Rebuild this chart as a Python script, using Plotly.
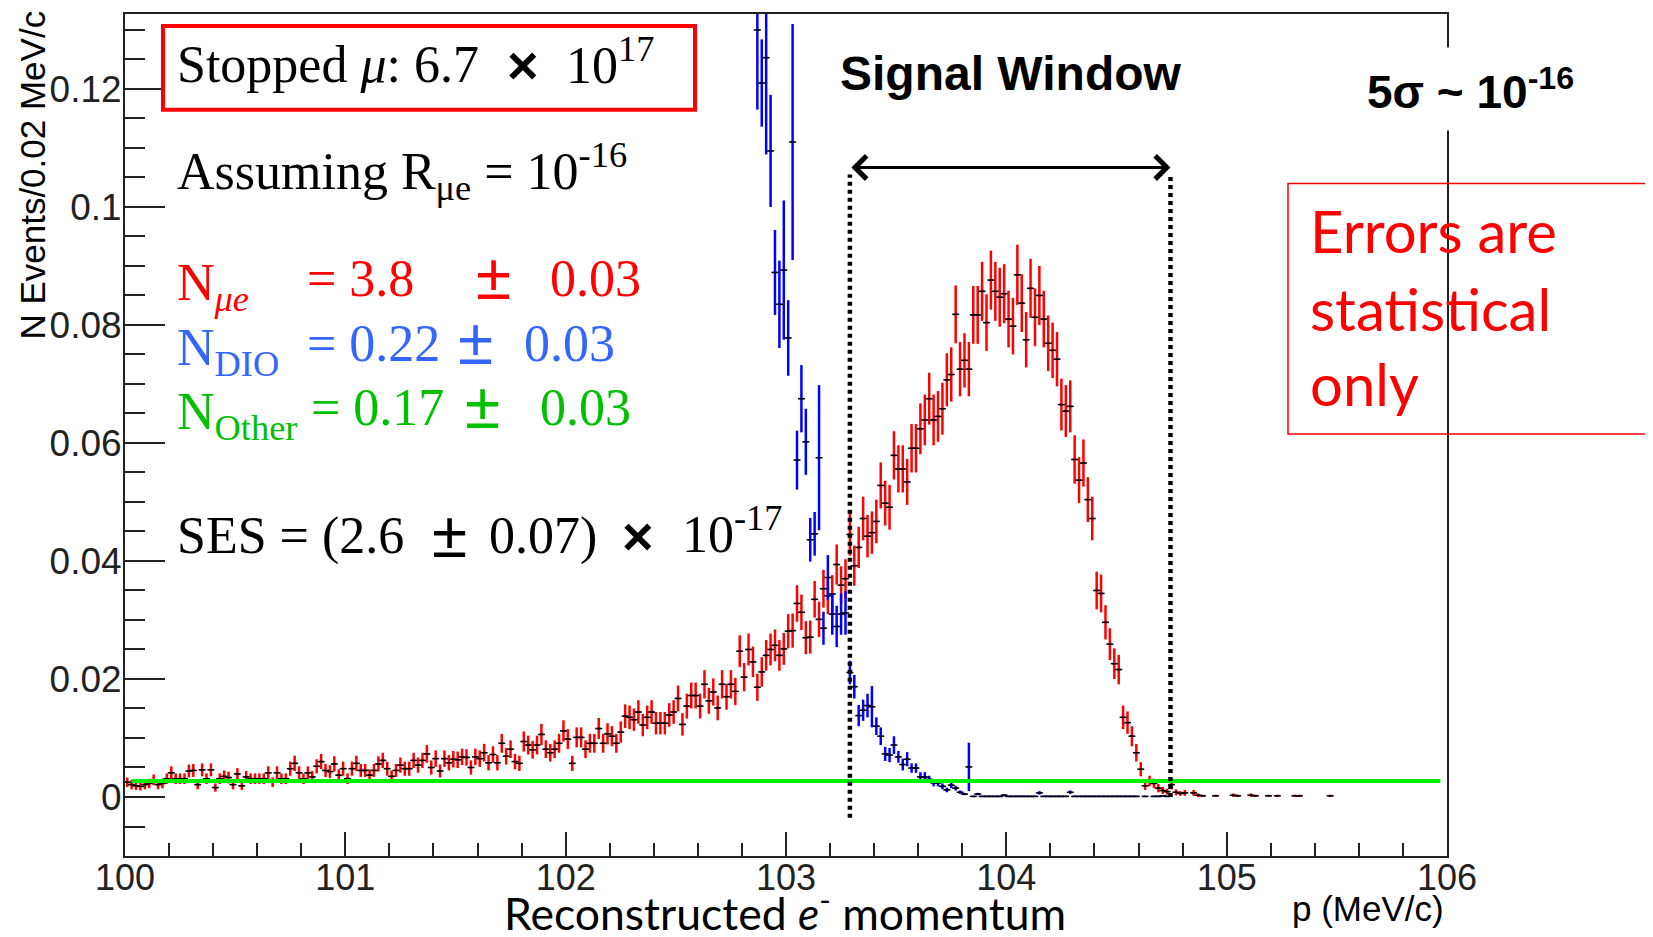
import plotly.graph_objects as go

# ---------------- data ----------------
BIN_LO = 100.0          # histogram lower edge (MeV/c)
BIN_WIDTH = 0.02        # MeV/c per bin

# Conversion electron (signal) histogram, bins k = 0 .. 273
ce_values = [
    0.0025, 0.0021, 0.0019, 0.0018, 0.0021, 0.0023, 0.0029, 0.0021, 0.0023, 0.0031,
    0.0041, 0.0031, 0.0031, 0.0031, 0.0044, 0.0045, 0.0021, 0.0046, 0.0031, 0.0046,
    0.0016, 0.0031, 0.0035, 0.0033, 0.0021, 0.0039, 0.0019, 0.0034, 0.0031, 0.0031,
    0.0031, 0.0031, 0.0041, 0.0025, 0.0041, 0.0031, 0.0031, 0.0048, 0.0057, 0.0041,
    0.0031, 0.0041, 0.0034, 0.0052, 0.0060, 0.0045, 0.0043, 0.0056, 0.0037, 0.0048,
    0.0031, 0.0048, 0.0057, 0.0045, 0.0045, 0.0037, 0.0045, 0.0056, 0.0062, 0.0048,
    0.0035, 0.0045, 0.0054, 0.0048, 0.0048, 0.0062, 0.0054, 0.0062, 0.0073, 0.0050,
    0.0065, 0.0044, 0.0065, 0.0058, 0.0064, 0.0063, 0.0068, 0.0067, 0.0050, 0.0068,
    0.0065, 0.0075, 0.0058, 0.0072, 0.0058, 0.0091, 0.0069, 0.0081, 0.0060, 0.0057,
    0.0094, 0.0088, 0.0080, 0.0088, 0.0106, 0.0081, 0.0075, 0.0081, 0.0091, 0.0112,
    0.0098, 0.0057, 0.0101, 0.0101, 0.0081, 0.0091, 0.0091, 0.0116, 0.0091, 0.0107,
    0.0103, 0.0091, 0.0110, 0.0137, 0.0135, 0.0131, 0.0144, 0.0122, 0.0135, 0.0144,
    0.0125, 0.0125, 0.0125, 0.0139, 0.0144, 0.0167, 0.0123, 0.0154, 0.0172, 0.0172,
    0.0154, 0.0191, 0.0163, 0.0178, 0.0151, 0.0191, 0.0170, 0.0191, 0.0179, 0.0247,
    0.0203, 0.0250, 0.0229, 0.0186, 0.0212, 0.0240, 0.0250, 0.0257, 0.0240, 0.0251,
    0.0281, 0.0282, 0.0328, 0.0313, 0.0270, 0.0271, 0.0335, 0.0301, 0.0353, 0.0341,
    0.0344, 0.0394, 0.0359, 0.0370, 0.0445, 0.0392, 0.0423, 0.0472, 0.0442, 0.0448,
    0.0467, 0.0528, 0.0498, 0.0491, 0.0579, 0.0556, 0.0556, 0.0534, 0.0591, 0.0591,
    0.0624, 0.0639, 0.0675, 0.0639, 0.0645, 0.0658, 0.0707, 0.0716, 0.0818, 0.0725,
    0.0740, 0.0725, 0.0817, 0.0817, 0.0857, 0.0804, 0.0876, 0.0857, 0.0847, 0.0853,
    0.0810, 0.0798, 0.0885, 0.0837, 0.0775, 0.0862, 0.0813, 0.0850, 0.0810, 0.0769,
    0.0757, 0.0742, 0.0665, 0.0654, 0.0662, 0.0572, 0.0537, 0.0566, 0.0504, 0.0472,
    0.0350, 0.0345, 0.0296, 0.0259, 0.0226, 0.0216, 0.0135, 0.0126, 0.0103, 0.0075,
    0.0047, 0.0019, 0.0027, 0.0023, 0.0015, 0.0011, 0.0009, 0.0021, 0.0008, 0.0006,
    0.0007, None, 0.0007, 0.0003, 0.0002, None, None, 0.0002, None, None,
    None, 0.0003, 0.0002, None, None, 0.0003, 0.0002, None, None, 0.0002,
    None, 0.0002, None, None, None, 0.0002, 0.0002, None, None, None,
    None, None, None, 0.0002,
]
ce_errors = [
    0.0008, 0.0008, 0.0007, 0.0007, 0.0008, 0.0008, 0.0009, 0.0008, 0.0008, 0.0009,
    0.0011, 0.0009, 0.0009, 0.0009, 0.0011, 0.0011, 0.0008, 0.0011, 0.0009, 0.0011,
    0.0007, 0.0009, 0.0010, 0.0010, 0.0008, 0.0010, 0.0007, 0.0010, 0.0009, 0.0009,
    0.0009, 0.0009, 0.0011, 0.0008, 0.0011, 0.0009, 0.0009, 0.0012, 0.0013, 0.0011,
    0.0009, 0.0011, 0.0010, 0.0012, 0.0013, 0.0011, 0.0011, 0.0013, 0.0010, 0.0012,
    0.0009, 0.0012, 0.0013, 0.0011, 0.0011, 0.0010, 0.0011, 0.0013, 0.0013, 0.0012,
    0.0010, 0.0011, 0.0013, 0.0012, 0.0012, 0.0013, 0.0013, 0.0013, 0.0015, 0.0012,
    0.0014, 0.0011, 0.0014, 0.0013, 0.0014, 0.0014, 0.0014, 0.0014, 0.0012, 0.0014,
    0.0014, 0.0015, 0.0013, 0.0014, 0.0013, 0.0016, 0.0014, 0.0015, 0.0013, 0.0013,
    0.0017, 0.0016, 0.0015, 0.0016, 0.0018, 0.0015, 0.0015, 0.0015, 0.0016, 0.0018,
    0.0017, 0.0013, 0.0017, 0.0017, 0.0015, 0.0016, 0.0016, 0.0018, 0.0016, 0.0018,
    0.0017, 0.0016, 0.0018, 0.0020, 0.0020, 0.0019, 0.0020, 0.0019, 0.0020, 0.0020,
    0.0019, 0.0019, 0.0019, 0.0020, 0.0020, 0.0022, 0.0019, 0.0021, 0.0022, 0.0022,
    0.0021, 0.0024, 0.0022, 0.0023, 0.0021, 0.0024, 0.0022, 0.0024, 0.0023, 0.0027,
    0.0024, 0.0027, 0.0026, 0.0023, 0.0025, 0.0026, 0.0027, 0.0027, 0.0026, 0.0027,
    0.0029, 0.0029, 0.0031, 0.0030, 0.0028, 0.0028, 0.0031, 0.0030, 0.0032, 0.0031,
    0.0032, 0.0034, 0.0032, 0.0033, 0.0036, 0.0034, 0.0035, 0.0037, 0.0036, 0.0036,
    0.0037, 0.0039, 0.0038, 0.0038, 0.0041, 0.0040, 0.0040, 0.0039, 0.0041, 0.0041,
    0.0043, 0.0043, 0.0044, 0.0043, 0.0043, 0.0044, 0.0045, 0.0046, 0.0049, 0.0046,
    0.0046, 0.0046, 0.0049, 0.0049, 0.0050, 0.0048, 0.0050, 0.0050, 0.0050, 0.0050,
    0.0048, 0.0048, 0.0051, 0.0049, 0.0047, 0.0050, 0.0049, 0.0050, 0.0048, 0.0047,
    0.0047, 0.0046, 0.0044, 0.0044, 0.0044, 0.0041, 0.0039, 0.0040, 0.0038, 0.0037,
    0.0032, 0.0032, 0.0029, 0.0027, 0.0026, 0.0025, 0.0020, 0.0019, 0.0017, 0.0015,
    0.0012, 0.0007, 0.0009, 0.0008, 0.0007, 0.0006, 0.0005, 0.0008, 0.0005, 0.0004,
    0.0005, None, 0.0005, 0.0003, 0.0002, None, None, 0.0002, None, None,
    None, 0.0003, 0.0002, None, None, 0.0003, 0.0002, None, None, 0.0002,
    None, 0.0002, None, None, None, 0.0002, 0.0002, None, None, None,
    None, None, None, 0.0002,
]

# Decay-in-orbit histogram, first visible bin index 143 (102.87 MeV/c)
DIO_FIRST_BIN = 143
dio_values = [
    0.1300, 0.1210, 0.1253, 0.1095, 0.0889, 0.0835, 0.0893, 0.0778, 0.1110, 0.0571,
    0.0675, 0.0602, 0.0436, 0.0446, 0.0575, 0.0286, 0.0372, 0.0310, 0.0289, 0.0310,
    0.0312, 0.0211, 0.0187, 0.0138, 0.0147, 0.0155, 0.0153, 0.0120, 0.0103, 0.0073,
    0.0071, 0.0088, 0.0068, 0.0055, 0.0064, 0.0049, 0.0049, 0.0034, 0.0034, 0.0030,
    0.0024, 0.0024, 0.0018, 0.0012, 0.0020, 0.0015, 0.0008, 0.0005, 0.0051, 0.0001,
    0.0005, 0.0001, 0.0001, 0.0001, 0.0001, 0.0001, 0.0003, 0.0001, 0.0001, 0.0001,
    0.0001, 0.0001, 0.0001, 0.0001, 0.0007, 0.0001, 0.0001, 0.0001, 0.0001, 0.0001,
    0.0001, 0.0008, 0.0001, 0.0001, 0.0001, 0.0001, 0.0001, 0.0001, 0.0001, 0.0001,
    0.0001, 0.0001, 0.0001, 0.0001, 0.0001, 0.0001, 0.0001, None, 0.0001, None,
    0.0001, 0.0001, 0.0002, 0.0001,
]
dio_errors = [
    0.0135, 0.0074, 0.0164, 0.0095, 0.0072, 0.0074, 0.0118, 0.0064, 0.0200, 0.0050,
    0.0057, 0.0056, 0.0037, 0.0037, 0.0123, 0.0028, 0.0038, 0.0035, 0.0035, 0.0035,
    0.0037, 0.0020, 0.0020, 0.0018, 0.0018, 0.0020, 0.0035, 0.0015, 0.0015, 0.0012,
    0.0012, 0.0015, 0.0010, 0.0010, 0.0012, 0.0008, 0.0008, 0.0008, 0.0008, 0.0006,
    0.0006, 0.0006, 0.0005, 0.0004, 0.0005, 0.0004, 0.0003, 0.0002, 0.0041, 0.0001,
    0.0002, 0.0001, 0.0001, 0.0001, 0.0001, 0.0001, 0.0002, 0.0001, 0.0001, 0.0001,
    0.0001, 0.0001, 0.0001, 0.0001, 0.0003, 0.0001, 0.0001, 0.0001, 0.0001, 0.0001,
    0.0001, 0.0003, 0.0001, 0.0001, 0.0001, 0.0001, 0.0001, 0.0001, 0.0001, 0.0001,
    0.0001, 0.0001, 0.0001, 0.0001, 0.0001, 0.0001, 0.0001, None, 0.0001, None,
    0.0001, 0.0001, 0.0001, 0.0001,
]

# "Other" backgrounds: flat level across the fit range
other_level = 0.0027
other_range = [100.03, 105.97]

# Signal window (MeV/c)
signal_window = [103.29, 104.745]

x_ticks = [100, 101, 102, 103, 104, 105, 106]

# ---------------- helpers ----------------
ce_x = [BIN_LO + BIN_WIDTH * (k + 0.5) for k in range(len(ce_values))]
dio_x = [BIN_LO + BIN_WIDTH * (DIO_FIRST_BIN + k + 0.5) for k in range(len(dio_values))]

# the page body adds an 8 px margin around the figure
FIG_W, FIG_H = 1645, 929
L, T = 117, 4
PW, PH = 1322, 844
R = FIG_W - L - PW
Bm = FIG_H - T - PH
# plot area in page pixels
PL, PT = 125, 12
PB = PT + PH

SERIF = "Liberation Serif"
SANS = "Liberation Sans"
CAL = "Lato"
RED = "#FF0000"
BLUE_TXT = "#3366FF"
GREEN_TXT = "#00C000"
AX = "#222222"


def fx(px):
    return (px - PL) / PW


def fy(py):
    return (PB - py) / PH


def note(text, x, y, size, color="black", family=SERIF, xanchor="left",
         yanchor="middle", **kw):
    return dict(text=text, x=fx(x), y=fy(y), xref="paper", yref="paper",
                xanchor=xanchor, yanchor=yanchor, showarrow=False,
                font=dict(family=family, size=size, color=color), **kw)


fig = go.Figure()

fig.add_trace(go.Scatter(
    x=ce_x, y=ce_values, mode="markers",
    marker=dict(symbol="line-ew", size=5, color="black",
                line=dict(color="black", width=1.5)),
    error_y=dict(type="data", array=ce_errors, color=RED, thickness=2.5, width=0),
    error_x=dict(type="constant", value=BIN_WIDTH / 2, color="#500000",
                 thickness=1.5, width=0),
    showlegend=False, hoverinfo="skip"))

fig.add_trace(go.Scatter(
    x=dio_x, y=dio_values, mode="markers",
    marker=dict(symbol="line-ew", size=5, color="black",
                line=dict(color="black", width=1.5)),
    error_y=dict(type="data", array=dio_errors, color="#0000FF", thickness=2.5, width=0),
    error_x=dict(type="constant", value=BIN_WIDTH / 2, color="#0000E0",
                 thickness=1.5, width=0),
    showlegend=False, hoverinfo="skip"))

fig.add_trace(go.Scatter(
    x=other_range, y=[other_level, other_level], mode="lines",
    line=dict(color="#00F000", width=4), showlegend=False, hoverinfo="skip"))

ARROW_Y = 0.1067
shapes = []
for xw, ybot in zip(signal_window, [-0.0035, 0.0]):
    shapes.append(dict(type="line", xref="x", yref="y", x0=xw, x1=xw,
                       y0=ybot, y1=ARROW_Y - 0.0012, layer="above",
                       line=dict(color="black", width=4.5, dash="4px,4px")))
# boxes
shapes.append(dict(type="rect", xref="paper", yref="paper",
                   x0=fx(163), x1=fx(695), y0=fy(108), y1=fy(24),
                   line=dict(color=RED, width=4), layer="above"))
shapes.append(dict(type="rect", xref="paper", yref="paper",
                   x0=fx(1288), x1=fx(1651), y0=fy(433), y1=fy(182),
                   line=dict(color=RED, width=1.5), layer="above"))

ann = []
# arrow of the signal window
ann.append(dict(x=signal_window[1], y=ARROW_Y, ax=signal_window[0], ay=ARROW_Y,
                xref="x", yref="y", axref="x", ayref="y", text="",
                showarrow=True, arrowhead=4, arrowside="end+start",
                arrowsize=1.5, arrowwidth=3, arrowcolor="black"))
ann.append(note("<b>Signal Window</b>", 1011, 72, 48, family=SANS, xanchor="center"))
ann.append(note("<b>5σ ~ 10<sup>-16</sup></b>", 1470, 87, 46, family=SANS,
                xanchor="center", bgcolor="white", borderpad=12))

# left text block
ann.append(note("Stopped <i>μ</i>: 6.7", 175, 63, 52))
ann.append(note("<b>×</b>", 505, 63, 54, family=SANS))
ann.append(note("10<sup>17</sup>", 564, 60, 52))
ann.append(note("Assuming R<sub>μe</sub> = 10<sup>-16</sup>", 175, 170, 52))

rows = [
    ("N<sub><i>μe</i></sub>", "= 3.8", "0.03", RED, 277, 305, 476, 548),
    ("N<sub>DIO</sub>", "= 0.22", "0.03", BLUE_TXT, 342, 305, 458, 522),
    ("N<sub>Other</sub>", "= 0.17", "0.03", GREEN_TXT, 406, 309, 465, 538),
]
for lab, val, err, col, yc, xv, xpm, xe in rows:
    ann.append(note(lab, 175, yc + 8, 52, color=col))
    ann.append(note(val, xv, yc, 52, color=col))
    ann.append(note("±", xpm - 2, yc - 1, 64, color=col, family=SANS))
    ann.append(note(err, xe, yc, 52, color=col))

ann.append(note("SES = (2.6", 175, 535, 52))
ann.append(note("±", 430, 534, 64, family=SANS))
ann.append(note("0.07)", 487, 535, 52))
ann.append(note("<b>×</b>", 620, 535, 54, family=SANS))
ann.append(note("10<sup>-17</sup>", 680, 530, 52))

# right text box
for txt, yc in [("Errors are", 229), ("statistical", 307), ("only", 382)]:
    ann.append(note(txt, 1308, yc, 58, color=RED, family=CAL))

# axis titles
ann.append(note("N Events/0.02 MeV/c", 33, 174, 35, family=SANS,
                xanchor="center", textangle=-90))
ann.append(note("Reconstructed <i>e</i><sup>-</sup> momentum", 785, 910, 44.5,
                family=CAL, xanchor="center"))
ann.append(note("p (MeV/c)", 1446, 909, 35, family=SANS, xanchor="right"))

fig.update_layout(
    width=FIG_W, height=FIG_H,
    margin=dict(l=L, r=R, t=T, b=Bm, pad=0),
    paper_bgcolor="white", plot_bgcolor="white",
    showlegend=False,
    shapes=shapes, annotations=ann,
    xaxis=dict(range=[100, 106], tickmode="array", tickvals=x_ticks,
               ticktext=[str(v) for v in x_ticks],
               ticks="inside", ticklen=24, tickwidth=2, tickcolor=AX,
               minor=dict(dtick=0.2, ticklen=13, tickwidth=2, tickcolor=AX,
                          ticks="inside", showgrid=False),
               showline=True, linecolor=AX, linewidth=2, mirror=True,
               showgrid=False, zeroline=False, ticklabelstandoff=-11,
               tickfont=dict(family=SANS, size=36, color=AX)),
    yaxis=dict(range=[-0.01, 0.1327], tick0=0, dtick=0.02,
               ticks="inside", ticklen=40, tickwidth=2, tickcolor=AX,
               minor=dict(dtick=0.005, ticklen=20, tickwidth=2, tickcolor=AX,
                          ticks="inside", showgrid=False),
               showline=True, linecolor=AX, linewidth=2, mirror=True,
               showgrid=False, zeroline=False, ticklabelstandoff=-6,
               tickfont=dict(family=SANS, size=37, color=AX)),
)

fig.write_html("out.html")
